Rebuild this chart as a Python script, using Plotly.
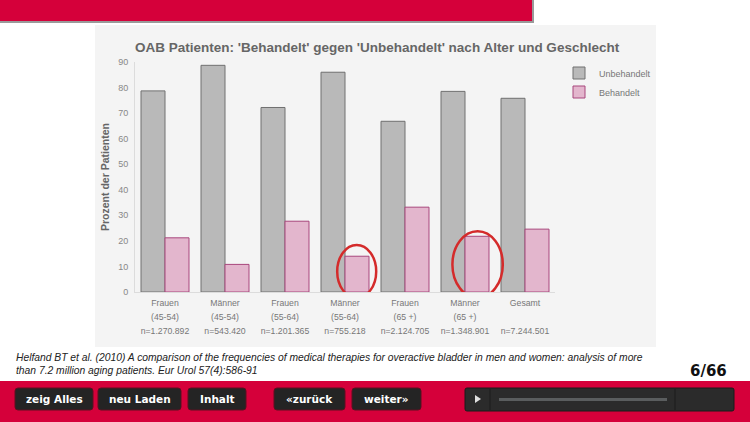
import plotly.graph_objects as go

# ---- data ----
groups = ["Frauen", "Männer", "Frauen", "Männer", "Frauen", "Männer", "Gesamt"]
ages = ["(45-54)", "(45-54)", "(55-64)", "(55-64)", "(65 +)", "(65 +)", "\u00a0"]
counts = ["n=1.270.892", "n=543.420", "n=1.201.365", "n=755.218",
          "n=2.124.705", "n=1.348.901", "n=7.244.501"]
unbehandelt = [78.7, 88.7, 72.2, 86.0, 66.8, 78.5, 75.8]
behandelt = [21.2, 10.8, 27.7, 14.0, 33.2, 21.8, 24.6]
series_names = ["Unbehandelt", "Behandelt"]
highlight_idx = [3, 5]

title_text = "OAB Patienten: 'Behandelt' gegen 'Unbehandelt' nach Alter und Geschlecht"
y_title = "Prozent der Patienten"
citation = ["Helfand BT et al. (2010) A comparison of the frequencies of medical therapies for overactive bladder in men and women: analysis of more",
            "than 7.2 million aging patients. Eur Urol 57(4):586-91"]
page_no = "6/66"
buttons = [("zeig Alles", 15, 93), ("neu Laden", 98, 181), ("Inhalt", 188, 246),
           ("«zurück", 274, 345), ("weiter»", 352, 421)]

W, H = 750, 422
PL, PR, PT, PB = 135, 555, 62, 292


def px(x):
    return (x - PL) / (PR - PL)


def py(y):
    return (PB - y) / (PB - PT)


def span(s):
    return '<span style="font-size:8.7px">' + s + '</span>'


cats = ["<br>".join(span(p) for p in (g, a, n)) for g, a, n in zip(groups, ages, counts)]

fig = go.Figure()
fig.add_trace(go.Bar(x=cats, y=unbehandelt, name=series_names[0],
                     marker=dict(color="#b9b9b9", line=dict(color="#707070", width=1))))
fig.add_trace(go.Bar(x=cats, y=behandelt, name=series_names[1],
                     marker=dict(color="#e3b6cd", line=dict(color="#a8467c", width=1))))

shapes = []
# page decoration
shapes.append(dict(type="rect", xref="paper", yref="paper", layer="below",
                   x0=px(0), x1=px(534), y0=py(0), y1=py(23),
                   fillcolor="#9a9a9a", line=dict(width=0)))
shapes.append(dict(type="rect", xref="paper", yref="paper", layer="below",
                   x0=px(0), x1=px(532), y0=py(0), y1=py(21),
                   fillcolor="#d5003a", line=dict(width=0)))
shapes.append(dict(type="rect", xref="paper", yref="paper", layer="below",
                   x0=px(95), x1=px(656), y0=py(25), y1=py(347),
                   fillcolor="#f4f4f4", line=dict(width=0)))
shapes.append(dict(type="rect", xref="paper", yref="paper", layer="below",
                   x0=px(0), x1=px(750), y0=py(381), y1=py(423),
                   fillcolor="#d5003a", line=dict(width=0)))


def rrect(x0, y0, x1, y1, r):
    rx = r / (PR - PL)
    ry = r / (PB - PT)
    X0, X1 = px(x0), px(x1)
    Y0, Y1 = py(y0), py(y1)  # Y0 top (larger), Y1 bottom
    return (f"M {X0+rx},{Y0} L {X1-rx},{Y0} Q {X1},{Y0} {X1},{Y0-ry} "
            f"L {X1},{Y1+ry} Q {X1},{Y1} {X1-rx},{Y1} L {X0+rx},{Y1} "
            f"Q {X0},{Y1} {X0},{Y1+ry} L {X0},{Y0-ry} Q {X0},{Y0} {X0+rx},{Y0} Z")


annotations = []
for label, x0, x1 in buttons:
    shapes.append(dict(type="path", xref="paper", yref="paper", path=rrect(x0, 388, x1, 410, 3),
                       fillcolor="#242424", line=dict(color="#5a1020", width=1)))
    annotations.append(dict(xref="paper", yref="paper", x=px((x0 + x1) / 2), y=py(399),
                            text=label, showarrow=False, xanchor="center", yanchor="middle",
                            font=dict(family="DejaVu Sans", size=10.5, color="white", weight="bold")))

# player
shapes.append(dict(type="path", xref="paper", yref="paper", path=rrect(465, 388, 734, 411, 2),
                   fillcolor="#2b2b2b", line=dict(color="#1a1a1a", width=1)))
for sx in (490, 675):
    shapes.append(dict(type="line", xref="paper", yref="paper", x0=px(sx), x1=px(sx),
                       y0=py(389), y1=py(410), line=dict(color="#1c1c1c", width=1)))
shapes.append(dict(type="path", xref="paper", yref="paper",
                   path=f"M {px(475)},{py(395)} L {px(481)},{py(399)} L {px(475)},{py(403)} Z",
                   fillcolor="#e0e0e0", line=dict(width=0)))
shapes.append(dict(type="rect", xref="paper", yref="paper", x0=px(499), x1=px(667),
                   y0=py(398), y1=py(401), fillcolor="#5a5d5e", line=dict(width=0)))

# highlight ellipses
shapes.append(dict(type="circle", xref="x", yref="y",
                   x0=highlight_idx[0] - 0.13, x1=highlight_idx[0] + 0.52, y0=-2.3, y1=18.4,
                   line=dict(color="#d42b2b", width=2.5)))
shapes.append(dict(type="circle", xref="x", yref="y",
                   x0=highlight_idx[1] - 0.21, x1=highlight_idx[1] + 0.63, y0=-2.3, y1=23.8,
                   line=dict(color="#d42b2b", width=2.5)))

# citation and page number
for i, line in enumerate(citation):
    annotations.append(dict(xref="paper", yref="paper", x=px(14), y=py(357 + 13.5 * i),
                            text=line, showarrow=False, xanchor="left", yanchor="middle",
                            font=dict(family="Liberation Sans", size=10.3, color="#222", style="italic")))
annotations.append(dict(xref="paper", yref="paper", x=px(729), y=py(371), text=page_no,
                        showarrow=False, xanchor="right", yanchor="middle",
                        font=dict(family="DejaVu Sans", size=15, color="#111", weight="bold")))
# chart title
annotations.append(dict(xref="paper", yref="paper", x=px(133), y=py(47.5), text="<b>" + title_text + "</b>",
                        showarrow=False, xanchor="left", yanchor="middle",
                        font=dict(family="Liberation Sans", size=13.5, color="#666")))

fig.update_layout(
    width=W, height=H,
    margin=dict(l=PL, r=W - PR, t=PT, b=H - PB, pad=0),
    paper_bgcolor="white", plot_bgcolor="rgba(0,0,0,0)",
    barmode="group", bargap=0.2, bargroupgap=0,
    font=dict(family="Liberation Sans", color="#777"),
    legend=dict(x=px(559), y=py(58.5), xanchor="left", yanchor="top",
                bgcolor="rgba(0,0,0,0)", font=dict(size=9, color="#777"),
                itemwidth=30, tracegroupgap=0),
    shapes=shapes, annotations=annotations,
    showlegend=True,
)
fig.update_xaxes(showline=True, linecolor="#dcdcdc", linewidth=1, ticks="",
                 tickfont=dict(size=10.8, color="#777"), showgrid=False)
fig.update_yaxes(range=[0, 90], dtick=10, showline=True, linecolor="#dcdcdc", linewidth=1,
                 ticks="", showgrid=False, zeroline=False, ticklabelstandoff=4,
                 tickfont=dict(size=9, color="#888"),
                 title=dict(text="<b>" + y_title + "</b>", standoff=6,
                            font=dict(size=10.5, color="#666")))

fig.write_html("out.html")
